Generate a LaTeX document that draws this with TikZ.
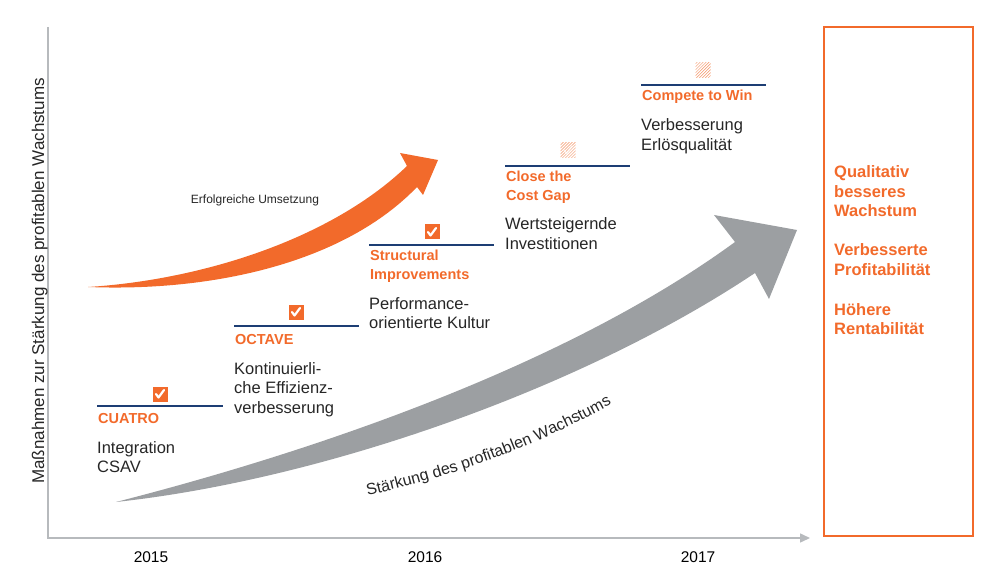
\documentclass[tikz,border=0pt]{standalone}
\usepackage{fontspec}
\setmainfont{Liberation Sans}
\usetikzlibrary{arrows.meta,patterns,decorations.text}

\definecolor{brandorange}{HTML}{F26A2B}
\definecolor{arrowgray}{HTML}{9C9FA2}
\definecolor{axisgray}{HTML}{B7BABD}
\definecolor{navy}{HTML}{1D3E74}
\definecolor{bodytext}{HTML}{262626}
\definecolor{hatchorange}{HTML}{F39263}

\begin{document}
% Multi-line nodes are anchored at the baseline of their last line.
\begin{tikzpicture}[x=1bp,y=-1bp,
  bodytxt/.style={anchor=base west, inner sep=0pt, align=left, text=bodytext,
    font=\fontsize{16.5bp}{19.5bp}\selectfont},
  steplabel/.style={anchor=base west, inner sep=0pt, align=left, text=brandorange,
    font=\fontsize{14.5bp}{19bp}\selectfont\bfseries},
  outcome/.style={anchor=base west, inner sep=0pt, align=left, text=brandorange,
    font=\fontsize{16.5bp}{19.5bp}\selectfont\bfseries},
  yeartxt/.style={anchor=base, inner sep=0pt, text=black,
    font=\fontsize{15.5bp}{18bp}\selectfont},
  stepline/.style={draw=navy, line width=2bp},
  donebox/.style={fill=brandorange, minimum width=15bp, minimum height=15bp, inner sep=0pt},
  plannedbox/.style={pattern=north east lines, pattern color=hatchorange,
    minimum width=15bp, minimum height=15bp, inner sep=0pt},
  tick/.style={draw=white, line width=2.2bp, line cap=round, line join=round},
  axisline/.style={draw=axisgray, line width=1.5bp},
]
\useasboundingbox (0,0) rectangle (987,577);

% ---------- axes ----------
\coordinate (ytop) at (48,27);
\coordinate (origin) at (48,538);
\coordinate (xend) at (810,538);
\draw[axisline, -{Triangle[length=10bp,width=9bp]}] (ytop) -- (origin) -- (xend);

\node[anchor=base, rotate=90, inner sep=0pt, text=bodytext,
      font=\fontsize{17bp}{19bp}\selectfont] (ylabel) at (44,281)
  {Maßnahmen zur Stärkung des profitablen Wachstums};

\node[yeartxt] (y2015) at (151,562) {2015};
\node[yeartxt] (y2016) at (425,562) {2016};
\node[yeartxt] (y2017) at (698,562) {2017};

% ---------- big grey growth arrow ----------
\fill[arrowgray] (116,502)
  .. controls (300,455) and (560,370) .. (735,242)
  -- (714,215) -- (797,230) -- (769,299) -- (755,273)
  .. controls (580,390) and (320,480) .. (116,502) -- cycle;
\path[decorate, decoration={text along path, text align=center,
      text={|\fontsize{16bp}{18bp}\selectfont\color{bodytext}|Stärkung des profitablen Wachstums}}]
  (356,498) .. controls (450,478) and (540,446) .. (622,398);

% ---------- orange execution arrow ----------
\fill[brandorange] (88,287)
  .. controls (200,280) and (330,240) .. (407,166)
  -- (400,153) -- (438,160) -- (423,195) -- (417,187)
  .. controls (345,262) and (215,292) .. (88,287) -- cycle;
\node[anchor=base, inner sep=0pt, text=bodytext, font=\fontsize{12bp}{14bp}\selectfont]
  (execlabel) at (255,204) {Erfolgreiche Umsetzung};

% ---------- milestones ----------
% CUATRO
\coordinate (s1a) at (97,406);  \coordinate (s1b) at (223,406);
\draw[stepline] (s1a) -- (s1b);
\node[donebox] (c1) at (160,394) {};
\draw[tick] ([shift={(-4,0)}]c1.center) -- ([shift={(-1.5,3.5)}]c1.center) -- ([shift={(4,-4)}]c1.center);
\node[steplabel] (l1) at (98,423) {CUATRO};
\node[bodytxt] (b1) at (97,472.5) {Integration\\CSAV};

% OCTAVE
\coordinate (s2a) at (234,326); \coordinate (s2b) at (359,326);
\draw[stepline] (s2a) -- (s2b);
\node[donebox] (c2) at (296,312) {};
\draw[tick] ([shift={(-4,0)}]c2.center) -- ([shift={(-1.5,3.5)}]c2.center) -- ([shift={(4,-4)}]c2.center);
\node[steplabel] (l2) at (235,344) {OCTAVE};
\node[bodytxt] (b2) at (234,413) {Kontinuierli-\\che Effizienz-\\verbesserung};

% Structural Improvements
\coordinate (s3a) at (369,245); \coordinate (s3b) at (494,245);
\draw[stepline] (s3a) -- (s3b);
\node[donebox] (c3) at (432,232) {};
\draw[tick] ([shift={(-4,0)}]c3.center) -- ([shift={(-1.5,3.5)}]c3.center) -- ([shift={(4,-4)}]c3.center);
\node[steplabel] (l3) at (370,280) {Structural\\Improvements};
\node[bodytxt] (b3) at (369,328.5) {Performance-\\orientierte Kultur};

% Close the Cost Gap
\coordinate (s4a) at (505,166); \coordinate (s4b) at (630,166);
\draw[stepline] (s4a) -- (s4b);
\node[plannedbox] (c4) at (568,150) {};
\draw[tick, opacity=0.7, line width=1.4bp]
  ([shift={(-4,0)}]c4.center) -- ([shift={(-1.5,3.5)}]c4.center) -- ([shift={(4,-4)}]c4.center);
\node[steplabel] (l4) at (506,201) {Close the\\Cost Gap};
\node[bodytxt] (b4) at (505,249.5) {Wertsteigernde\\Investitionen};

% Compete to Win
\coordinate (s5a) at (641,85); \coordinate (s5b) at (766,85);
\draw[stepline] (s5a) -- (s5b);
\node[plannedbox] (c5) at (703,70) {};
\node[steplabel] (l5) at (642,101) {Compete to Win};
\node[bodytxt] (b5) at (641,150.5) {Verbesserung\\Erlösqualität};

% ---------- outcome panel ----------
\node[draw=brandorange, line width=1.3bp, minimum width=149bp, minimum height=509bp,
      inner sep=0pt] (panel) at (898.5,281.5) {};
\node[outcome] (o1) at (834,217) {Qualitativ\\besseres\\Wachstum};
\node[outcome] (o2) at (834,275.5) {Verbesserte\\Profitabilität};
\node[outcome] (o3) at (834,334.5) {Höhere\\Rentabilität};

\end{tikzpicture}
\end{document}
